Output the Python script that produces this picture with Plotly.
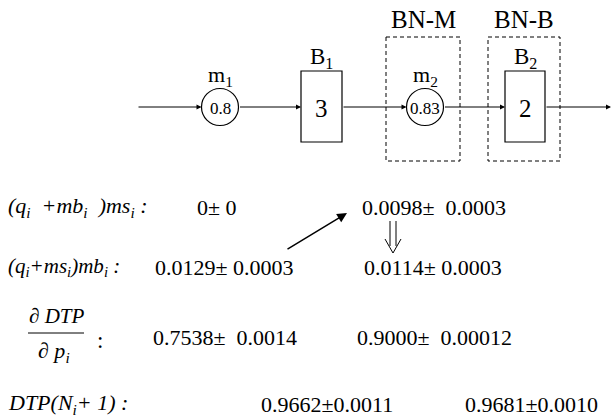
import plotly.graph_objects as go

# ---- data ----
group_labels = ["BN-M", "BN-B"]
machine_names = ["m<sub>1</sub>", "m<sub>2</sub>"]
machine_values = ["0.8", "0.83"]
buffer_names = ["B<sub>1</sub>", "B<sub>2</sub>"]
buffer_values = ["3", "2"]

row_labels = [
    "<i>(q<sub>i</sub>  +mb<sub>i</sub>  )ms<sub>i</sub> :</i>",
    "<i>(q<sub>i</sub>+ms<sub>i</sub>)mb<sub>i</sub> :</i>",
    "",
    "<i>DTP(N<sub>i</sub>+ 1) :</i>",
]
col1_values = ["0± 0", "0.0129± 0.0003", "0.7538±  0.0014", "0.9662±0.0011"]
col2_values = ["0.0098±  0.0003", "0.0114± 0.0003", "0.9000±  0.00012", "0.9681±0.0010"]

# ---- layout positions (page pixels) ----
W, H = 613, 418
FONT = "Liberation Serif, Times New Roman, serif"
line_y = 107

machine_x = [220, 425]
machine_r = 18.5
buffer_x = [(301, 342), (505, 545)]
buffer_y = (71, 142)
group_x = [(386, 460), (488, 560)]
group_y = (37, 161)

row_y = [207, 267, 337, 404]
label_size = [22, 21, 0, 22]
col1_x = [195, 153, 151, 259]
col2_x = [360, 362, 355, 463]

fig = go.Figure()
shapes = []
annotations = []

# dashed group boxes + labels
for (x0, x1), lab in zip(group_x, group_labels):
    shapes.append(dict(type="rect", x0=x0, x1=x1, y0=group_y[0], y1=group_y[1],
                       line=dict(color="black", width=1, dash="4px,3px"), xref="x", yref="y"))
    annotations.append(dict(x=(x0 + x1) / 2, y=19, text=lab, showarrow=False,
                            font=dict(family=FONT, size=25, color="black"),
                            xanchor="center", yanchor="middle"))

# machines (circles)
for cx, name, val in zip(machine_x, machine_names, machine_values):
    shapes.append(dict(type="circle", x0=cx - machine_r, x1=cx + machine_r,
                       y0=line_y - machine_r, y1=line_y + machine_r,
                       line=dict(color="black", width=1.2), fillcolor="white"))
    annotations.append(dict(x=cx, y=line_y + 1, text=val, showarrow=False,
                            font=dict(family=FONT, size=17, color="black")))
    annotations.append(dict(x=cx, y=line_y - 31, text=name, showarrow=False,
                            font=dict(family=FONT, size=22, color="black")))

# buffers (boxes)
for (x0, x1), name, val in zip(buffer_x, buffer_names, buffer_values):
    shapes.append(dict(type="rect", x0=x0, x1=x1, y0=buffer_y[0], y1=buffer_y[1],
                       line=dict(color="black", width=1.2), fillcolor="white"))
    annotations.append(dict(x=(x0 + x1) / 2, y=line_y + 1, text=val, showarrow=False,
                            font=dict(family=FONT, size=25, color="black")))
    annotations.append(dict(x=(x0 + x1) / 2, y=buffer_y[0] - 13, text=name, showarrow=False,
                            font=dict(family=FONT, size=23, color="black")))

# flow arrows along the line
segments = [
    (137, machine_x[0] - machine_r),
    (machine_x[0] + machine_r, buffer_x[0][0]),
    (buffer_x[0][1], machine_x[1] - machine_r),
    (machine_x[1] + machine_r, buffer_x[1][0]),
    (buffer_x[1][1], 611),
]
for xa, xb in segments:
    annotations.append(dict(x=xb, y=line_y, ax=xa, ay=line_y, xref="x", yref="y",
                            axref="x", ayref="y", text="", showarrow=True,
                            arrowhead=2, arrowsize=1, arrowwidth=1, arrowcolor="black",
                            standoff=0, startstandoff=0))

# rows of text
for i in range(4):
    if row_labels[i]:
        annotations.append(dict(x=6, y=row_y[i], text=row_labels[i], showarrow=False,
                                xanchor="left", yanchor="middle",
                                font=dict(family=FONT, size=label_size[i], color="black")))
    annotations.append(dict(x=col1_x[i], y=row_y[i], text=col1_values[i], showarrow=False,
                            xanchor="left", yanchor="middle",
                            font=dict(family=FONT, size=22, color="black")))
    annotations.append(dict(x=col2_x[i], y=row_y[i], text=col2_values[i], showarrow=False,
                            xanchor="left", yanchor="middle",
                            font=dict(family=FONT, size=22, color="black")))

# fraction dDTP / dp_i
annotations.append(dict(x=56, y=316, text="<i>∂ DTP</i>", showarrow=False,
                        font=dict(family=FONT, size=21, color="black")))
annotations.append(dict(x=54, y=352, text="<i>∂ p<sub>i</sub></i>", showarrow=False,
                        font=dict(family=FONT, size=22, color="black")))
shapes.append(dict(type="line", x0=28, x1=84, y0=333, y1=333,
                   line=dict(color="black", width=1)))
annotations.append(dict(x=100, y=340, text=":", showarrow=False,
                        font=dict(family=FONT, size=23, color="black")))

# diagonal arrow
annotations.append(dict(x=347, y=213, ax=286, ay=250, xref="x", yref="y",
                        axref="x", ayref="y", text="", showarrow=True,
                        arrowhead=2, arrowsize=1.3, arrowwidth=1.5, arrowcolor="black",
                        standoff=0, startstandoff=0))

# double down arrow
shapes.append(dict(type="line", x0=390, x1=390, y0=221, y1=246, line=dict(color="black", width=1)))
shapes.append(dict(type="line", x0=396, x1=396, y0=221, y1=246, line=dict(color="black", width=1)))
shapes.append(dict(type="path", path="M 385 239 L 393 253 L 401 239",
                   line=dict(color="black", width=1)))

fig.update_layout(
    width=W, height=H,
    margin=dict(l=0, r=0, t=0, b=0),
    paper_bgcolor="white", plot_bgcolor="white",
    xaxis=dict(range=[0, W], visible=False, fixedrange=True),
    yaxis=dict(range=[H, 0], visible=False, fixedrange=True),
    shapes=shapes, annotations=annotations, showlegend=False,
)
fig.write_html("out.html", config={"displayModeBar": False},
               post_script="document.body.style.margin='0';document.body.style.overflow='hidden';")
